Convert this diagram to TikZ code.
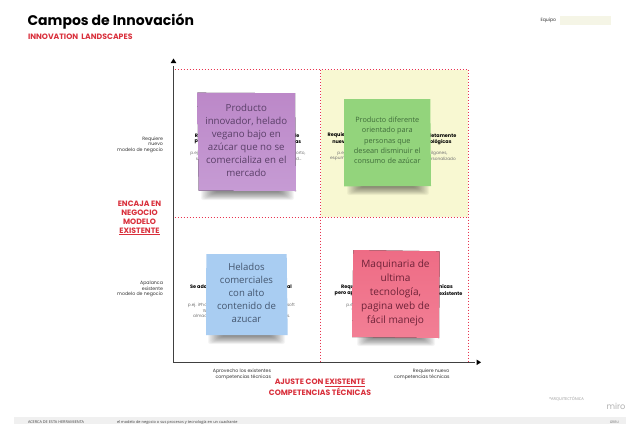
\documentclass[tikz,border=0pt]{standalone}
\usepackage{fontspec}
\setmainfont{Poppins}
\newfontfamily\notef{Open Sans}
\definecolor{crimson}{HTML}{D9303C}
\definecolor{dotred}{HTML}{E8344F}
\definecolor{quad}{HTML}{F8F8D2}
\definecolor{eqcol}{HTML}{F5F5E6}
\definecolor{purptop}{HTML}{BC88C8}
\definecolor{purpbot}{HTML}{C69BD4}
\definecolor{purpt}{HTML}{5A3F68}
\definecolor{gree}{HTML}{93D47C}
\definecolor{greet}{HTML}{3F6B3A}
\definecolor{blu}{HTML}{A9CDF2}
\definecolor{blut}{HTML}{44566F}
\definecolor{rosytop}{HTML}{EE6C85}
\definecolor{rosybot}{HTML}{F27F95}
\definecolor{rosyt}{HTML}{6E2238}
\newcommand{\stickyshadow}[3]{%
  \foreach \i in {0,1,...,13}{
    \fill[black,opacity=0.04,rounded corners=2pt]
      ({#1-3+\i*1.1},{#3-3}) rectangle ({#2+3-\i*1.1},{#3+9-\i*0.62});
  }}
\tikzset{
  x=1pt,y=-1pt,
  every node/.style={inner sep=0pt,outer sep=0pt},
  title/.style={font=\fontsize{14}{17}\selectfont\bfseries,anchor=west},
  redhead/.style={font=\fontsize{7.75}{9}\selectfont\bfseries,text=crimson,align=center},
  axislabel/.style={font=\fontsize{4.7}{5.6}\selectfont,align=right,text=black!80},
  bold frag/.style={font=\fontsize{4.9}{6.3}\selectfont\bfseries,text=black},
  small frag/.style={font=\fontsize{4.3}{5.5}\selectfont,text=black!55},
  note/.style={font=\notef,align=center},
  dotline/.style={draw=dotred,line width=1pt,dash pattern=on 1.5pt off 1.5pt},
  axis/.style={draw=black!75,line width=1.1pt},
  tip/.style={fill=black,draw=none}
}
\begin{document}
\begin{tikzpicture}
\useasboundingbox (0,0) rectangle (640,424);
\fill[white] (0,0) rectangle (640,424);
% header
\node[title] (t1) at (27.5,22) {Campos de Innovación};
\node[redhead,anchor=west] (t2) at (28,37) {INNOVATION\ \ LANDSCAPES};
\node[font=\fontsize{4.6}{6}\selectfont,anchor=west,text=black!80] (eq) at (540.5,20.5) {Equipo};
\node[minimum width=51pt,minimum height=9.5pt,anchor=west,fill=eqcol] (eqbox) at (560,20.5) {};
% quadrant
\fill[quad] (321,70) rectangle (467.5,217);
\coordinate (tl) at (174.5,69.5);
\coordinate (tm) at (320.5,69.5);
\coordinate (tr) at (468,69.5);
\coordinate (ml) at (174.5,217.5);
\coordinate (mr) at (468,217.5);
\coordinate (bm) at (320.5,362);
\coordinate (br) at (468,362);
\draw[dotline] (tl) -- (tr);
\draw[dotline] (tr) -- (br);
\draw[dotline] (ml) -- (mr);
\draw[dotline] (tm) -- (bm);
% axes
\coordinate (o) at (173.5,362.7);
\coordinate (ya) at (173.5,66);
\coordinate (xa) at (475,362.7);
\draw[axis] (ya) -- (o) -- (xa);
\fill[tip] (173.5,58.5) -- (170.7,63) -- (176.3,63) -- cycle;
\fill[tip] (481,362.3) -- (476.7,359.6) -- (476.7,365) -- cycle;
% axis labels
\node[axislabel,anchor=east] (a1) at (163,144.5) {Requiere\\nuevo\\modelo de negocio};
\node[axislabel,anchor=east] (a2) at (163,289) {Apalanca\\existente\\modelo de negocio};
\node[axislabel,anchor=east] (a3) at (271,374.5) {Aprovecho los existentes\\competencias técnicas};
\node[axislabel,anchor=east] (a4) at (449.5,374.5) {Requiere nuevo\\competencias técnicas};
\node[redhead] (r1) at (139.5,218) {ENCAJA EN\\NEGOCIO\\MODELO\\\underline{EXISTENTE}};
\node[redhead,font=\fontsize{7.75}{9.2}\selectfont\bfseries] (r2) at (320,387) {AJUSTE CON \underline{EXISTENTE}\\COMPETENCIAS TÉCNICAS};
% fragments behind stickies: top left
\node[bold frag,anchor=east] (f1) at (198,135.5) {R};
\node[bold frag,anchor=east] (f2) at (198,142) {p};
\node[bold frag,anchor=west] (f3) at (295,135.5) {le};
\node[bold frag,anchor=west] (f4) at (295,142) {as};
\node[small frag,anchor=east] (f5) at (198,153.5) {p.ej};
\node[small frag,anchor=east] (f6) at (198,159) {s};
\node[small frag,anchor=west] (f7) at (296,153.5) {orto,};
\node[small frag,anchor=west] (f8) at (296,159) {d...};
% top right
\node[bold frag,anchor=east] (g1) at (345,135.5) {Requie};
\node[bold frag,anchor=east] (g2) at (345,142) {nuev};
\node[bold frag,anchor=west] (g3) at (430,135.5) {letamente};
\node[bold frag,anchor=west] (g4) at (430,142) {ológicas};
\node[small frag,anchor=east] (g5) at (345,153.5) {p.ej};
\node[small frag,anchor=east] (g6) at (345,159) {espum};
\node[small frag,anchor=west] (g7) at (431,153.5) {ilganes,};
\node[small frag,anchor=west] (g8) at (431,159) {rsonalizado};
% bottom left
\node[bold frag,anchor=east] (h1) at (207,287) {Se ado};
\node[bold frag,anchor=west] (h2) at (287,287) {al};
\node[small frag,anchor=east] (h3) at (207,305) {p.ej. iPho};
\node[small frag,anchor=west] (h4) at (287,305) {soft};
\node[small frag,anchor=east] (h5) at (207,310.5) {W};
\node[small frag,anchor=east] (h6) at (207,316) {almac};
\node[small frag,anchor=west] (h7) at (287,316) {s.};
% bottom right
\node[bold frag,anchor=east] (k1) at (354,287) {Requ};
\node[bold frag,anchor=east] (k2) at (354,293.5) {pero ap};
\node[bold frag,anchor=west] (k3) at (439,287) {nicas};
\node[bold frag,anchor=west] (k4) at (439,293.5) {existente};
\node[small frag,anchor=east] (k5) at (354,305) {p.ej};
\node[small frag,anchor=east] (k6) at (354,310.5) {v};
% shadows
\stickyshadow{204}{291}{191}
\stickyshadow{350}{426}{186}
\stickyshadow{211}{282}{335}
\stickyshadow{360}{432}{337}
% stickies
\fill[top color=purptop,bottom color=purpbot] (197.3,92.7) -- (295,93.2) -- (296,191) -- (198.7,190.6) -- cycle;
\fill[gree] (344,99) -- (430.3,99) -- (431,186) -- (344,186.3) -- cycle;
\fill[blu] (206.3,254) -- (286.7,254) -- (287.7,335) -- (206,335) -- cycle;
\fill[top color=rosytop,bottom color=rosybot] (353.3,250) -- (439.7,251.3) -- (439,338) -- (352,337) -- cycle;
% sticky text
\node[note,text=purpt,font=\notef\fontsize{9.7}{13}\selectfont] (s1) at (246.3,140) {Producto\\innovador, helado\\vegano bajo en\\azúcar que no se\\comercializa en el\\mercado};
\node[note,text=greet,font=\notef\fontsize{7.3}{10.3}\selectfont] (s2) at (387.3,140.5) {Producto diferente\\orientado para\\personas que\\desean disminuir el\\consumo de azúcar};
\node[note,text=blut,font=\notef\fontsize{9.6}{13}\selectfont] (s3) at (246.5,292.5) {Helados\\comerciales\\con alto\\contenido de\\azucar};
\node[note,text=rosyt,font=\notef\fontsize{10.1}{13.9}\selectfont] (s4) at (395.5,292.7) {Maquinaria de\\ultima\\tecnología,\\pagina web de\\fácil manejo};
% footer
\fill[black!6] (14,417) rectangle (626,424);
\node[font=\notef\fontsize{3.8}{5}\selectfont,anchor=west,text=black!75] (ft1) at (28,422.5) {ACERCA DE ESTA HERRAMIENTA};
\node[font=\notef\fontsize{3.9}{5}\selectfont,anchor=west,text=black!75] (ft2) at (117,422.5) {el modelo de negocio o sus procesos y tecnología en un cuadrante};
\node[font=\notef\fontsize{3.4}{5}\selectfont,anchor=east,text=black!55] (ft3) at (619,422.5) {GRBU};
\node[font=\notef\fontsize{3.9}{5}\selectfont,anchor=west,text=black!40] (ar) at (549,399.5) {*ARQUITECTÓNICA};
\node[font=\fontsize{8.3}{10}\selectfont,anchor=east,text=black!30] (mi) at (625.5,406) {miro};
\end{tikzpicture}
\end{document}
